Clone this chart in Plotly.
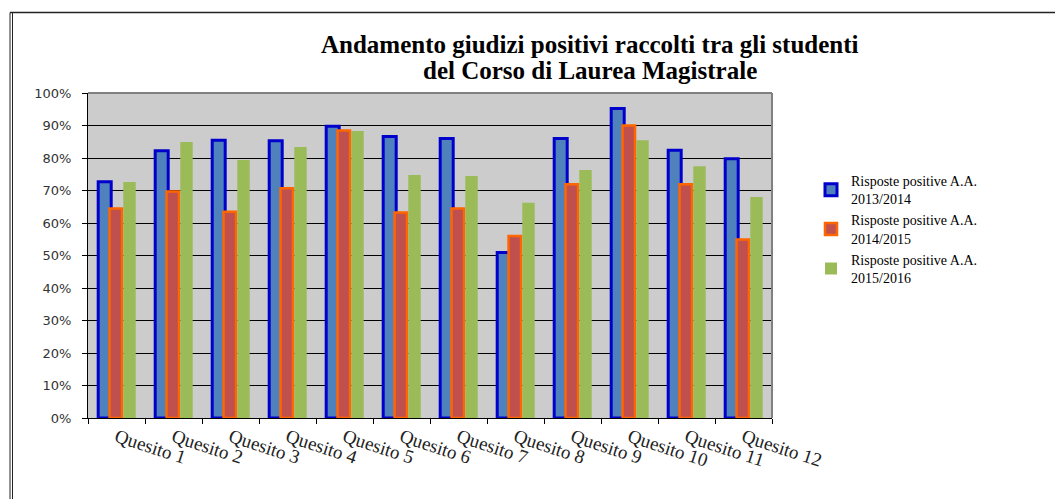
import plotly.graph_objects as go

categories = ["Quesito 1", "Quesito 2", "Quesito 3", "Quesito 4", "Quesito 5", "Quesito 6",
              "Quesito 7", "Quesito 8", "Quesito 9", "Quesito 10", "Quesito 11", "Quesito 12"]
aa_2013_2014 = [0.727, 0.822, 0.855, 0.853, 0.898, 0.866, 0.860, 0.509, 0.860, 0.952, 0.824, 0.798]
aa_2014_2015 = [0.645, 0.697, 0.635, 0.707, 0.885, 0.632, 0.645, 0.560, 0.719, 0.900, 0.719, 0.549]
aa_2015_2016 = [0.726, 0.849, 0.794, 0.834, 0.883, 0.748, 0.745, 0.662, 0.763, 0.855, 0.775, 0.680]
series_names = ["Risposte positive A.A.<br>2013/2014",
                "Risposte positive A.A.<br>2014/2015",
                "Risposte positive A.A.<br>2015/2016"]
y_ticks = [0, 0.1, 0.2, 0.3, 0.4, 0.5, 0.6, 0.7, 0.8, 0.9, 1.0]
title_lines = ["Andamento giudizi positivi raccolti tra gli studenti",
               "del Corso di Laurea Magistrale"]

fig = go.Figure()
fig.add_trace(go.Bar(x=categories, y=aa_2013_2014, name=series_names[0],
                     offset=-0.321, width=0.228,
                     marker=dict(color="#4F81BD", line=dict(color="#0000CC", width=3))))
fig.add_trace(go.Bar(x=categories, y=aa_2014_2015, name=series_names[1],
                     offset=-0.122, width=0.219,
                     marker=dict(color="#C0504D", line=dict(color="#FF6600", width=2.5))))
fig.add_trace(go.Bar(x=categories, y=aa_2015_2016, name=series_names[2],
                     offset=0.119, width=0.218,
                     marker=dict(color="#9BBB59", line=dict(width=0))))

OFF = 8  # page body margin
L, R, T, B = 88 - OFF, 772 - OFF, 93 - OFF, 418 - OFF
W, H = 1063 - OFF, 499 - OFF
def px(x):
    return (x - OFF - L) / (R - L)
def py(y):
    return (B - (y - OFF)) / (B - T)

fig.update_layout(
    width=W, height=H,
    margin=dict(l=L, r=W - R, t=T, b=H - B),
    paper_bgcolor="white",
    plot_bgcolor="#CCCCCC",
    barmode="overlay",
    showlegend=True,
    legend=dict(x=px(811), y=py(165), xanchor="left", yanchor="top",
                font=dict(family="Liberation Serif", size=14, color="black"),
                bgcolor="rgba(0,0,0,0)", tracegroupgap=0, itemwidth=30),
    xaxis=dict(range=[-0.5, 11.5], showgrid=False, showline=True, linecolor="black", linewidth=1,
               ticks="outside", tickson="boundaries", ticklen=5, tickcolor="black",
               tickangle=18,
               tickfont=dict(family="Liberation Serif", size=19, color="#222")),
    yaxis=dict(range=[0, 1], tickvals=y_ticks, tickformat=".0%", showgrid=True,
               gridcolor="black", gridwidth=1, showline=True, linecolor="black", linewidth=1,
               ticks="outside", ticklen=5, tickcolor="black", ticklabelstandoff=8,
               tickfont=dict(family="DejaVu Sans", size=13, color="#333"), zeroline=False),
    annotations=[
        dict(text=title_lines[0], xref="paper", yref="paper", x=px(590), y=py(45),
             xanchor="center", yanchor="middle", showarrow=False,
             font=dict(family="Liberation Serif", size=25, color="black", weight="bold")),
        dict(text=title_lines[1], xref="paper", yref="paper", x=px(590), y=py(70),
             xanchor="center", yanchor="middle", showarrow=False,
             font=dict(family="Liberation Serif", size=25, color="black", weight="bold")),
    ],
    shapes=[
        dict(type="line", xref="paper", yref="paper", x0=px(10), x1=px(1063), y0=py(12.5), y1=py(12.5),
             line=dict(color="#222", width=1.5)),
        dict(type="line", xref="paper", yref="paper", x0=px(10), x1=px(10), y0=py(12.5), y1=py(499),
             line=dict(color="#222", width=1)),
        dict(type="line", xref="paper", yref="paper", x0=px(12.5), x1=px(12.5), y0=py(12.5), y1=py(499),
             line=dict(color="#222", width=1)),
        dict(type="line", xref="paper", yref="paper", x0=0, x1=1, y0=1, y1=1,
             line=dict(color="#808080", width=2)),
        dict(type="line", xref="paper", yref="paper", x0=1, x1=1, y0=0, y1=1,
             line=dict(color="#808080", width=2)),
    ],
)

fig.write_html("out.html")
